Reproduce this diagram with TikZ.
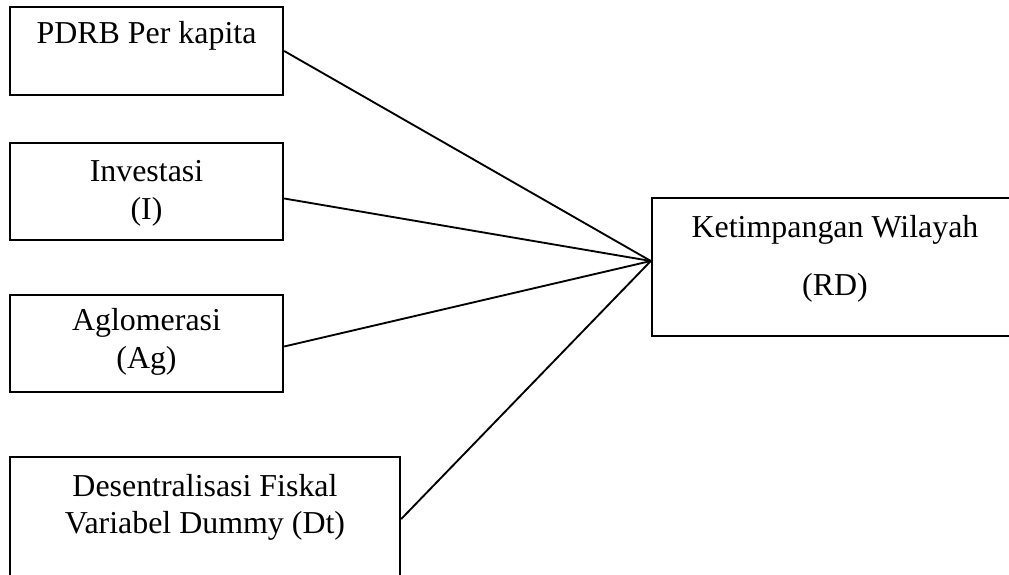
\documentclass[tikz,border=0pt]{standalone}
\usepackage{fontspec}
\setmainfont{Liberation Serif}
\usetikzlibrary{positioning,calc,fit}

\begin{document}
\begin{tikzpicture}[
  x=0.376pt, y=-0.376pt,
  box/.style={draw, line width=0.9pt, inner sep=0pt},
  lbl/.style={anchor=base, align=center, inner sep=0pt, font=\fontsize{12}{14.1}\selectfont},
  link/.style={line width=0.7pt}
]
\clip (0,0) rectangle (1009,574);

\node[box, fit={(10,7) (283,95)}] (pdrb) {};
\node[box, fit={(10,143) (283,240)}] (inv) {};
\node[box, fit={(10,295) (283,392)}] (agl) {};
\node[box, fit={(10,457) (400,581)}] (dt) {};
\node[box, fit={(652,198) (1018,336)}] (rd) {};

\node[lbl] (pdrbtxt) at ($(pdrb.north)+(0,38)$) {PDRB Per kapita};
\node[lbl] (invtxt) at ($(inv.north)+(0,77.5)$) {Investasi\\(I)};
\node[lbl] (agltxt) at ($(agl.north)+(0,74.5)$) {Aglomerasi\\(Ag)};
\node[lbl] (dttxt) at ($(dt.north)+(0,78)$) {Desentralisasi Fiskal\\Variabel Dummy (Dt)};
\node[lbl] (rdtxt) at ($(rd.north)+(0,99)$) {Ketimpangan Wilayah\\[7.7pt](RD)};

\coordinate (hub) at ($(rd.west)+(0,-6)$);
\draw[link] (pdrb.east) -- (hub);
\draw[link] ($(inv.east)+(0,7)$) -- (hub);
\draw[link] ($(agl.east)+(0,3)$) -- (hub);
\draw[link] (dt.east) -- (hub);
\end{tikzpicture}
\end{document}
